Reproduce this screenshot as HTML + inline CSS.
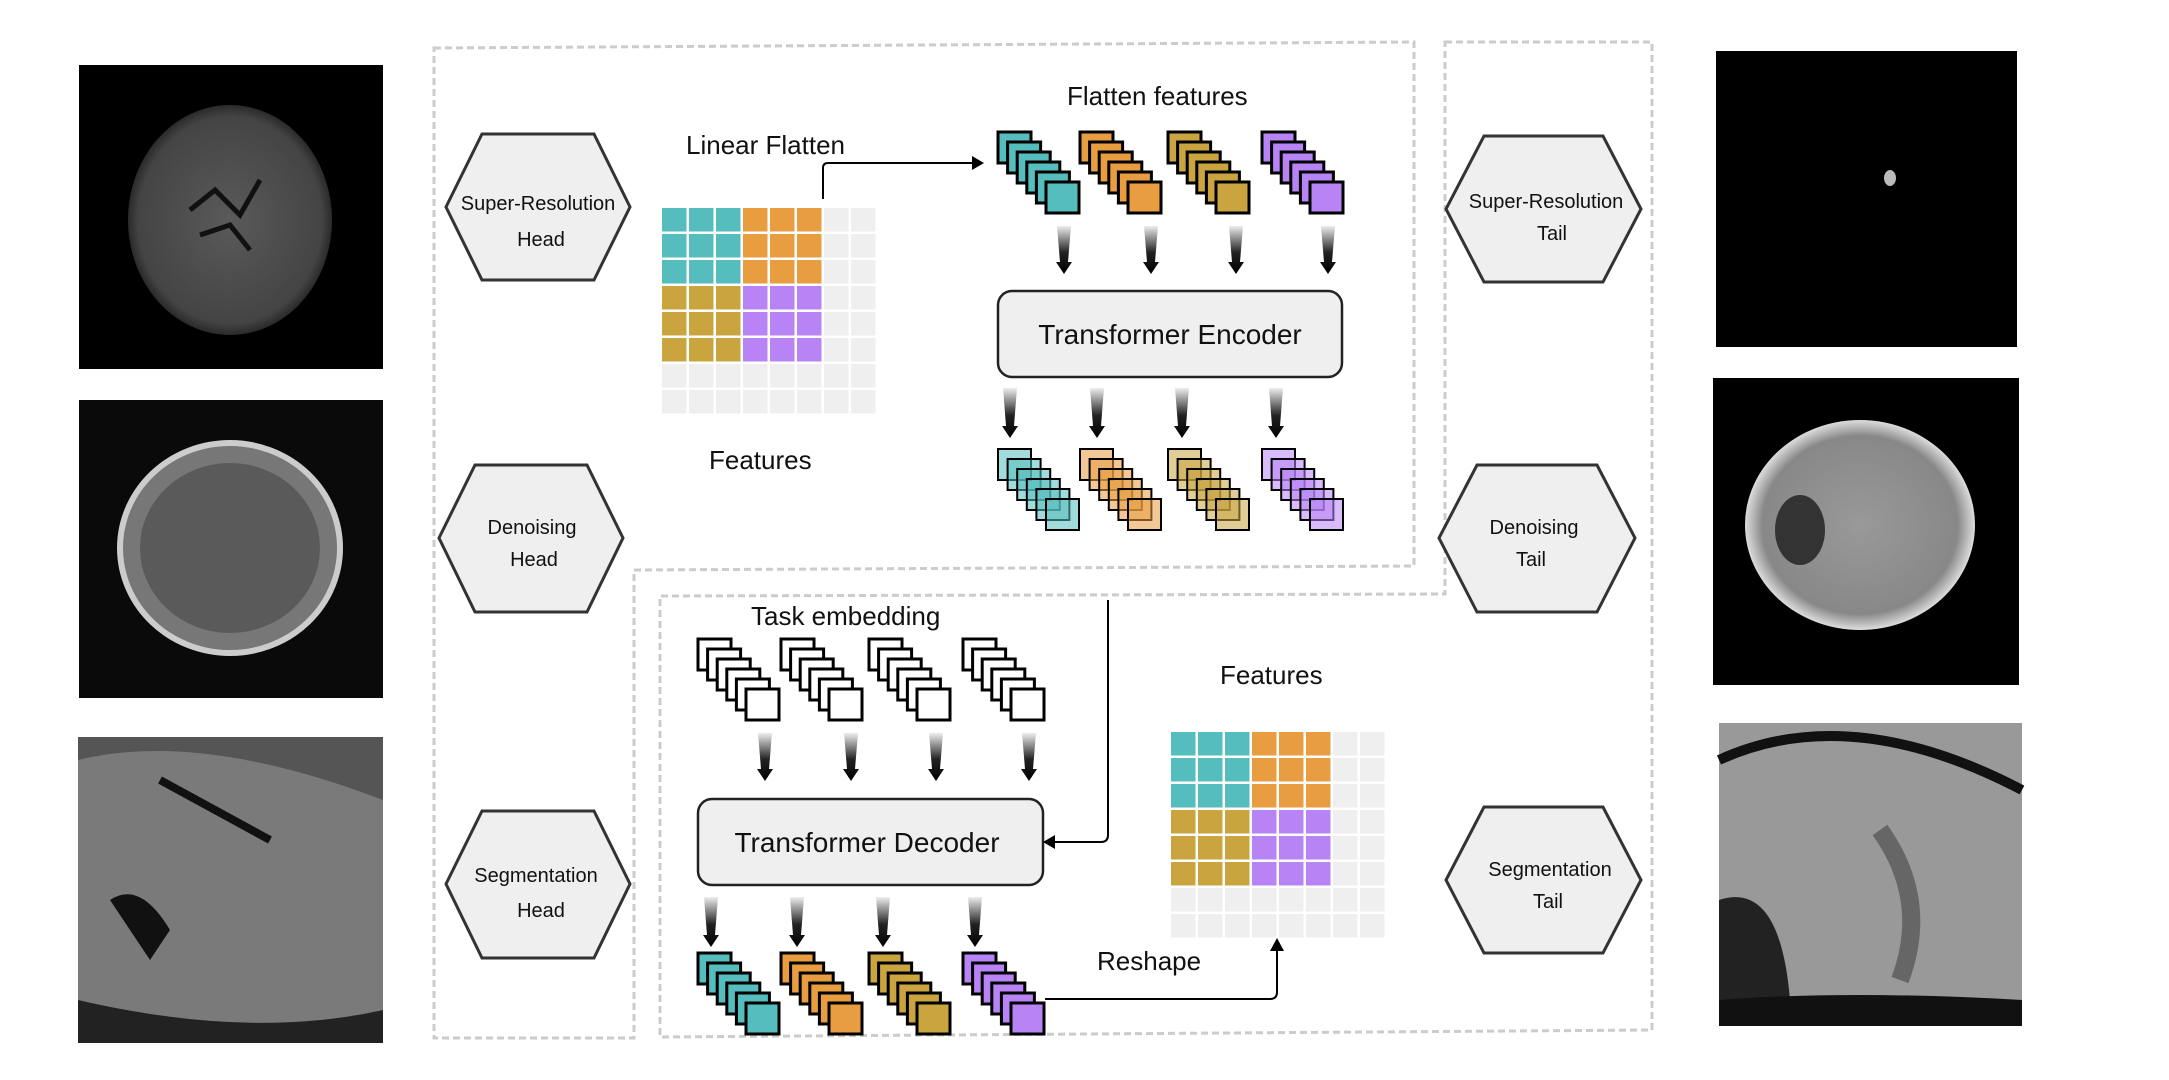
<!DOCTYPE html>
<html><head><meta charset="utf-8">
<style>
html,body{margin:0;padding:0;background:#fff;}
svg{display:block;}
text{font-family:"Liberation Sans",sans-serif;fill:#111;}
</style></head>
<body>
<svg id="s" width="2169" height="1080" viewBox="0 0 2169 1080" xmlns="http://www.w3.org/2000/svg">
<defs>
<linearGradient id="ag" x1="0" y1="0" x2="0" y2="1">
<stop offset="0" stop-color="#eee"/><stop offset="0.55" stop-color="#222"/><stop offset="1" stop-color="#000"/>
</linearGradient>
<radialGradient id="br1" cx="0.5" cy="0.5" r="0.5"><stop offset="0" stop-color="#5a5a5a"/><stop offset="0.9" stop-color="#444"/><stop offset="1" stop-color="#2a2a2a"/></radialGradient>
<radialGradient id="br2" cx="0.5" cy="0.5" r="0.5"><stop offset="0" stop-color="#999"/><stop offset="0.85" stop-color="#888"/><stop offset="1" stop-color="#ddd"/></radialGradient>
</defs>

<polygon points="434,48 1414,42 1414,566 634,570 634,1038 434,1038" fill="none" stroke="#ccc" stroke-width="3" stroke-dasharray="7,4"/>
<polygon points="1445,42 1652,42 1652,1030 660,1037 660,596 1445,594" fill="none" stroke="#ccc" stroke-width="3" stroke-dasharray="7,4"/>

<rect x="79" y="65" width="304" height="304" fill="#000"/>
<ellipse cx="230" cy="220" rx="102" ry="115" fill="url(#br1)"/>
<path d="M190 210 L215 190 L240 215 L260 180 M200 235 L230 225 L250 250" stroke="#111" stroke-width="5" fill="none"/>
<rect x="79" y="400" width="304" height="298" fill="#0a0a0a"/>
<ellipse cx="230" cy="548" rx="110" ry="105" fill="#777"/>
<ellipse cx="230" cy="548" rx="90" ry="85" fill="#5a5a5a"/>
<ellipse cx="230" cy="548" rx="110" ry="105" fill="none" stroke="#ccc" stroke-width="6"/>
<rect x="78" y="737" width="305" height="306" fill="#555"/>
<path d="M78 760 Q200 730 383 800 L383 1043 L78 1043 Z" fill="#7a7a7a"/>
<path d="M160 780 L270 840" stroke="#111" stroke-width="8"/>
<path d="M110 900 Q140 880 170 930 L150 960 Z" fill="#111"/>
<path d="M78 1000 Q250 1040 383 1010 L383 1043 L78 1043Z" fill="#222"/>

<rect x="1716" y="51" width="301" height="296" fill="#000"/>
<ellipse cx="1890" cy="178" rx="6" ry="8" fill="#bbb"/>
<rect x="1713" y="378" width="306" height="307" fill="#000"/>
<ellipse cx="1860" cy="525" rx="115" ry="105" fill="url(#br2)"/>
<ellipse cx="1800" cy="530" rx="25" ry="35" fill="#333"/>
<rect x="1719" y="723" width="303" height="303" fill="#999"/>
<path d="M1719 760 Q1850 700 2022 790" stroke="#111" stroke-width="10" fill="none"/>
<path d="M1719 900 Q1780 880 1790 1000 L1719 1026Z" fill="#222"/>
<path d="M1880 830 Q1930 900 1900 980" stroke="#666" stroke-width="18" fill="none"/>
<path d="M1719 1000 Q1850 990 2022 1000 L2022 1026 L1719 1026Z" fill="#111"/>

<g id="dyn"></g>

<g stroke="#333" stroke-width="3" fill="#efefef">
<polygon points="482,134 594,134 630,207 594,280 482,280 446,207"/>
<polygon points="475,465 587,465 623,538 587,612 475,612 439,538"/>
<polygon points="482,811 594,811 630,884 594,958 482,958 446,884"/>
<polygon points="1484,136 1603,136 1641,209 1603,282 1484,282 1446,209"/>
<polygon points="1477,465 1597,465 1635,538 1597,612 1477,612 1439,538"/>
<polygon points="1484,807 1603,807 1641,880 1603,953 1484,953 1446,880"/>
</g>
<g font-size="20" text-anchor="middle">
<text x="538" y="210">Super-Resolution</text><text x="541" y="246">Head</text>
<text x="532" y="534">Denoising</text><text x="534" y="566">Head</text>
<text x="536" y="882">Segmentation</text><text x="541" y="917">Head</text>
<text x="1546" y="208">Super-Resolution</text><text x="1552" y="240">Tail</text>
<text x="1534" y="534">Denoising</text><text x="1531" y="566">Tail</text>
<text x="1550" y="876">Segmentation</text><text x="1548" y="908">Tail</text>
</g>

<rect x="998" y="291" width="344" height="86" rx="14" fill="#efefef" stroke="#222" stroke-width="2.5"/>
<text x="1170" y="344" font-size="28" text-anchor="middle">Transformer Encoder</text>
<rect x="698" y="799" width="345" height="86" rx="14" fill="#efefef" stroke="#222" stroke-width="2.5"/>
<text x="867" y="852" font-size="28" text-anchor="middle">Transformer Decoder</text>

<text x="686" y="154" font-size="26">Linear Flatten</text>
<text x="709" y="469" font-size="26">Features</text>
<text x="1067" y="105" font-size="26">Flatten features</text>
<text x="751" y="625" font-size="26">Task embedding</text>
<text x="1220" y="684" font-size="26">Features</text>
<text x="1097" y="970" font-size="26">Reshape</text>

<g fill="none" stroke="#000" stroke-width="2">
<path d="M823 199 L823 168 Q823 163 828 163 L975 163"/>
<path d="M1108 600 L1108 835 Q1108 842 1101 842 L1050 842"/>
<path d="M1045 999 L1270 999 Q1277 999 1277 992 L1277 948"/>
</g>
<polygon points="984,163 972,156 972,170" fill="#000"/>
<polygon points="1043,842 1055,835 1055,849" fill="#000"/>
<polygon points="1277,938 1270,951 1284,951" fill="#000"/>
</svg>
<script>
const NS="http://www.w3.org/2000/svg",g=document.getElementById('dyn');
function el(t,a){const e=document.createElementNS(NS,t);for(const k in a)e.setAttribute(k,a[k]);g.appendChild(e);return e;}
const C={t:'#55bdbd',o:'#e89d40',g:'#c9a43f',p:'#b884f5',e:'#efefef'};
function grid(x0,y0,w,h){const cw=w/8,ch=h/8;
 for(let r=0;r<8;r++)for(let c=0;c<8;c++){let col='e';
  if(r<3&&c<3)col='t';else if(r<3&&c<6)col='o';else if(r<6&&c<3)col='g';else if(r<6&&c<6)col='p';
  el('rect',{x:x0+c*cw,y:y0+r*ch,width:cw-2.5,height:ch-2.5,fill:C[col]});}}
grid(662,208,216,208);grid(1171,732,216,208);
function stack(x,y,fill,op,sw){for(let i=0;i<6;i++)el('rect',{x:x+i*9.6,y:y+i*10,width:33,height:31,fill:fill,'fill-opacity':op,stroke:'#000','stroke-width':sw});}
const xs1=[998,1080,1168,1262],cs=['t','o','g','p'];
xs1.forEach((x,i)=>{stack(x,132,C[cs[i]],1,3);stack(x,449,C[cs[i]],0.55,2);});
const xs2=[698,781,869,963];
xs2.forEach((x,i)=>{stack(x,639,'#fff',1,3);stack(x,953,C[cs[i]],1,3);});
function arrow(cx,y1,y2){el('polygon',{points:`${cx-7},${y1} ${cx+7},${y1} ${cx+4},${y2-12} ${cx+8},${y2-12} ${cx},${y2} ${cx-8},${y2-12} ${cx-4},${y2-12}`,fill:'url(#ag)'});}
[1064,1151,1236,1328].forEach(x=>arrow(x,226,274));
[1010,1097,1182,1276].forEach(x=>arrow(x,388,438));
[765,851,936,1029].forEach(x=>arrow(x,733,781));
[711,797,883,975].forEach(x=>arrow(x,897,947));
</script>
</body></html>
